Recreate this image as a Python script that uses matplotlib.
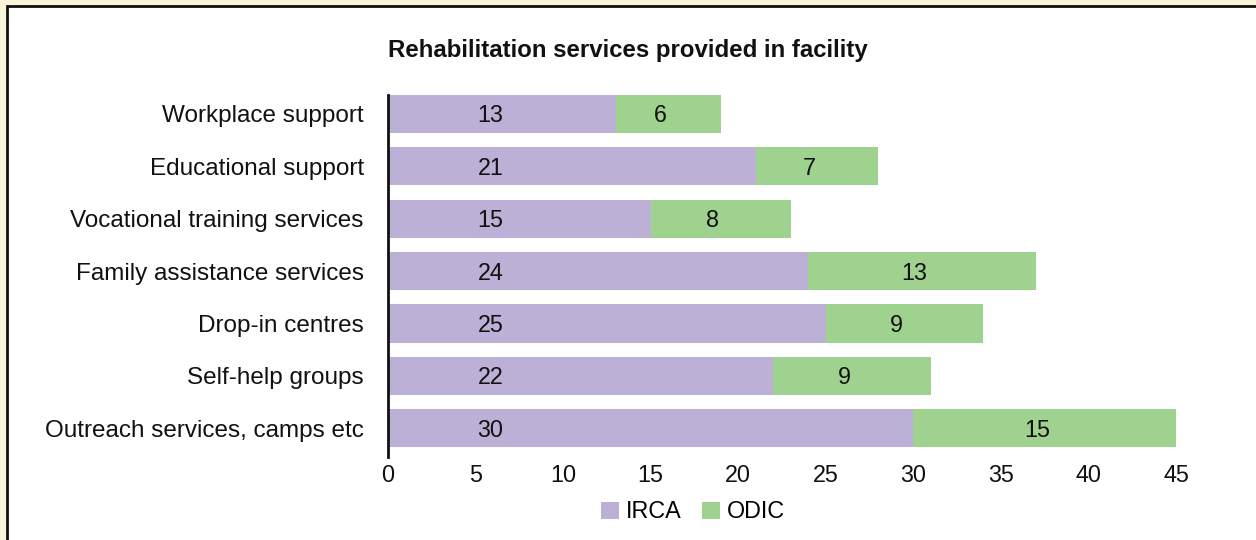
import matplotlib
matplotlib.use("Agg")
import matplotlib.pyplot as plt
from matplotlib.patches import Rectangle

categories = [
    "Workplace support",
    "Educational support",
    "Vocational training services",
    "Family assistance services",
    "Drop-in centres",
    "Self-help groups",
    "Outreach services, camps etc",
]
irca = [13, 21, 15, 24, 25, 22, 30]
odic = [6, 7, 8, 13, 9, 9, 15]
xticks = [0, 5, 10, 15, 20, 25, 30, 35, 40, 45]

PURPLE = "#bcb0d6"
GREEN = "#a0d28f"
CREAM = "#faf5d8"
FS = 16.8

plt.rcParams["font.family"] = ["Liberation Sans", "DejaVu Sans"]

fig = plt.figure(figsize=(12.56, 5.40), dpi=100, facecolor=CREAM)

# white panel with dark frame, kept behind the chart
panel = Rectangle((7 / 1256, -0.05), 1.1, 1.05 - 6 / 540,
                  transform=fig.transFigure, facecolor="white",
                  edgecolor="#111111", linewidth=2, zorder=-10)
fig.patches.append(panel)

ax = fig.add_axes([388 / 1256, 1 - 457 / 540, (1176 - 388) / 1256, (457 - 95) / 540])
ax.set_facecolor("none")
ax.set_zorder(5)

y = list(range(len(categories)))
h = 0.73
b1 = ax.barh(y, irca, height=h, color=PURPLE, label="IRCA")
b2 = ax.barh(y, odic, left=irca, height=h, color=GREEN, label="ODIC")

# IRCA labels sit in a common column near the axis; ODIC labels near segment centres
irca_label_x = 5.85
dy = 0.04
for rect, v in zip(b1, irca):
    ax.text(irca_label_x, rect.get_y() + rect.get_height() / 2 + dy,
            str(v), ha="center", va="center", fontsize=FS, color="#111111")
for rect, v in zip(b2, odic):
    ax.text(rect.get_x() + rect.get_width() / 2 - 0.45, rect.get_y() + rect.get_height() / 2 + dy,
            str(v), ha="center", va="center", fontsize=FS, color="#111111")

ax.set_xlim(0, 45)
ax.set_ylim(6.55, -0.36)
ax.set_yticks(y)
ax.set_yticklabels(categories, fontsize=17.5, color="#111111")
ax.set_xticks(xticks)
ax.set_xticklabels([str(t) for t in xticks], fontsize=FS, color="#111111")
ax.tick_params(axis="both", length=0)
ax.tick_params(axis="y", pad=17.5)
ax.tick_params(axis="x", pad=5)
for side in ["top", "right", "bottom"]:
    ax.spines[side].set_visible(False)
ax.spines["left"].set_linewidth(2)
ax.spines["left"].set_color("#111111")

fig.text(628 / 1256, 1 - 50 / 540, "Rehabilitation services provided in facility",
         ha="center", va="center", fontsize=17.3, fontweight="bold", color="#111111")

fig.legend(handles=[b1, b2], labels=["IRCA", "ODIC"], loc="center",
           bbox_to_anchor=(693 / 1256, 1 - 512 / 540), ncol=2, frameon=False,
           fontsize=FS, handlelength=0.75, handleheight=0.75, handletextpad=0.3,
           columnspacing=0.9, borderaxespad=0)

fig.savefig("out.png", dpi=100, facecolor=CREAM)
